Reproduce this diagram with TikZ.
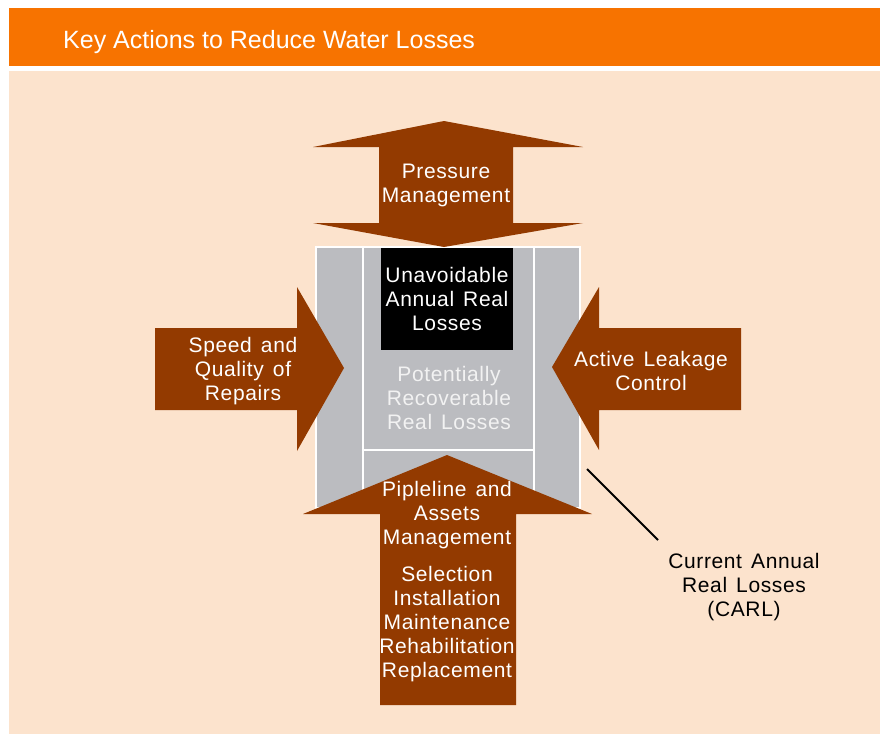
\documentclass[tikz,border=0pt]{standalone}
\usepackage{fontspec}
\setmainfont{Liberation Sans}[LetterSpace=3,WordSpace=1.4]
\newfontfamily\titlefont{Liberation Sans}
\usepackage{xcolor}
\usepackage{tikz}
\usetikzlibrary{positioning}
\definecolor{hdrorange}{HTML}{F77300}
\definecolor{peach}{HTML}{FCE3CD}
\definecolor{rust}{HTML}{933A00}
\definecolor{lossgray}{HTML}{BBBCC0}
\tikzset{
  band/.style   ={fill=hdrorange},
  panel/.style  ={fill=peach},
  act/.style    ={fill=rust},
  zone/.style   ={draw=white,line width=2pt,fill=lossgray,inner sep=0pt},
  core/.style   ={fill=black,inner sep=0pt},
  lbl/.style    ={font=\fontsize{21}{24}\selectfont,align=center,inner sep=1pt},
  wlbl/.style   ={lbl,text=white},
  glbl/.style   ={lbl,text=black!5},
  pointer/.style={line width=2pt,black},
}
\begin{document}
\begin{tikzpicture}[x=1pt,y=-1pt]
  \useasboundingbox[fill=white] (0,0) rectangle (880,734);
  % HEADER
  \fill[band] (9,8) rectangle (880,66);
  \node[anchor=west,inner sep=0pt,text=white,font=\titlefont\fontsize{25}{29}\selectfont] (title) at (63,42)
    {Key Actions to Reduce Water Losses};
  \fill[panel] (9,71) rectangle (880,734);
  % LOSS BOXES -- CARL, recoverable, unavoidable
  \node[zone,minimum width=264pt,minimum height=261pt] (carlbox) at (448,377.5){};
  \node[zone,minimum width=171pt,minimum height=203pt] (recbox) at (448,348.5){};
  \node[zone,minimum width=171pt,minimum height=58pt] (lowbox) at (448,479){};
  \node[core,minimum width=132pt,minimum height=102pt] (uarlbox) at (447,299){};
  % ARROWS -- the four key actions
  \fill[act] (444,121) -- (583,147) -- (513,147) -- (513,223) -- (583,223) -- (444,247)
    -- (313,223) -- (379,223) -- (379,147) -- (313,147) -- cycle;
  \fill[act] (155,328) -- (297,328) -- (297,287) -- (344,368) -- (297,451) -- (297,410)
    -- (155,410) -- cycle;
  \fill[act] (741,328) -- (599,328) -- (599,287) -- (552,367) -- (599,450) -- (599,410)
    -- (741,410) -- cycle;
  \fill[act] (447,455) -- (592,514) -- (516,514) -- (516,705) -- (380,705) -- (380,514)
    -- (303,514) -- cycle;
  % LABELS
  \node[wlbl] (pressure) at (446,185){Pressure\\Management};
  \node[wlbl] (uarl) at (447,299){Unavoidable\\Annual Real\\Losses};
  \node[glbl] (potential) at (449,398){Potentially\\Recoverable\\Real Losses};
  \node[wlbl] (repairs) at (243,371){Speed and\\Quality of\\Repairs};
  \node[wlbl] (alc) at (651,371){Active Leakage\\Control};
  \node[wlbl] (pipeline) at (447,515){Pipleline and\\Assets\\Management};
  \node[wlbl] (assets) at (447,624){Selection\\Installation\\Maintenance\\Rehabilitation\\Replacement};
  \node[lbl] (carl) at (744,587){Current Annual\\Real Losses\\(CARL)};
  \coordinate (carlpt) at (587,469);
  \coordinate (carlend) at (658,540);
  \draw[pointer] (carlpt) -- (carlend);
\end{tikzpicture}
\end{document}
